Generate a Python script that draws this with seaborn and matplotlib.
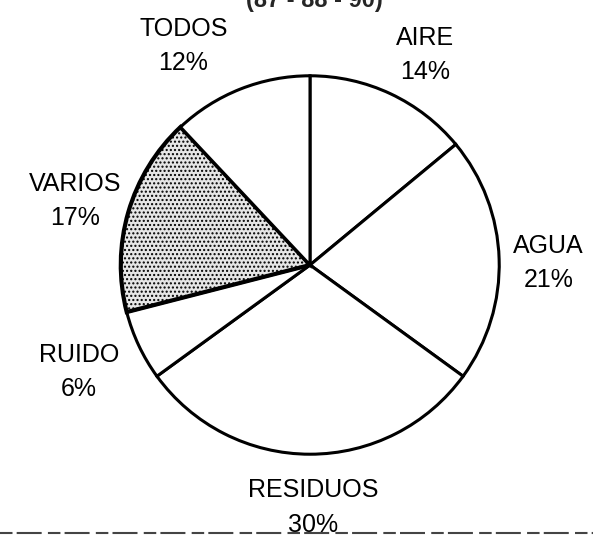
import matplotlib
matplotlib.use("Agg")
import matplotlib.pyplot as plt
import seaborn as sns
from matplotlib.lines import Line2D
from matplotlib.transforms import offset_copy

sns.set_theme(style="white")
plt.rcParams['font.family'] = ['Liberation Sans', 'DejaVu Sans']
plt.rcParams['hatch.color'] = '#555555'

categorias = ['AIRE', 'AGUA', 'RESIDUOS', 'RUIDO', 'VARIOS', 'TODOS']
porcentajes = [14, 21, 30, 6, 17, 12]
titulo = '(87 - 88 - 90)'

etiquetas = ['{}\n{}%'.format(c, p) for c, p in zip(categorias, porcentajes)]

fig = plt.figure(figsize=(5.93, 5.36), dpi=100)
W, H = 593, 536
cx, cy, r = 310, 265, 193
ax = fig.add_axes([(cx - r) / W, (H - cy - r) / H, 2 * r / W, 2 * r / H])

wedges, textos = ax.pie(porcentajes, labels=etiquetas, startangle=90, counterclock=False,
                        labeldistance=1.26, colors=['white'] * len(porcentajes),
                        wedgeprops=dict(edgecolor='black', linewidth=2.2),
                        textprops=dict(fontsize=18, color='black', linespacing=1.55))

# pequeños ajustes de las etiquetas (en puntos)
ajustes = {'AIRE': (10, -4), 'AGUA': (0, -4), 'RESIDUOS': (2, -3), 'RUIDO': (-11, -4),
           'VARIOS': (-4, -2), 'TODOS': (-28, -2)}
for t, c in zip(textos, categorias):
    t.set_horizontalalignment('center')
    t.set_verticalalignment('center')
    dx, dy = ajustes[c]
    t.set_transform(offset_copy(t.get_transform(), fig=fig, x=dx, y=dy, units='points'))

# slice VARIOS punteado
varios = wedges[categorias.index('VARIOS')]
varios.set_facecolor('#e6e6e6')
varios.set_hatch('....')
varios.set_linewidth(3)

ax.set_xlim(-1.02, 1.02)
ax.set_ylim(-1.02, 1.02)
ax.axis('off')

# titulo cortado arriba
fig.text(0.53, 1.0, titulo, ha='center', va='center', fontsize=17, fontweight='bold')

# linea discontinua al pie de la pagina
fig.add_artist(Line2D([0.0, 1.0], [0.006, 0.006], transform=fig.transFigure,
                      color='#444444', linewidth=1.5, dashes=(6, 2, 12, 3)))

fig.savefig('out.png', dpi=100, facecolor='white')
